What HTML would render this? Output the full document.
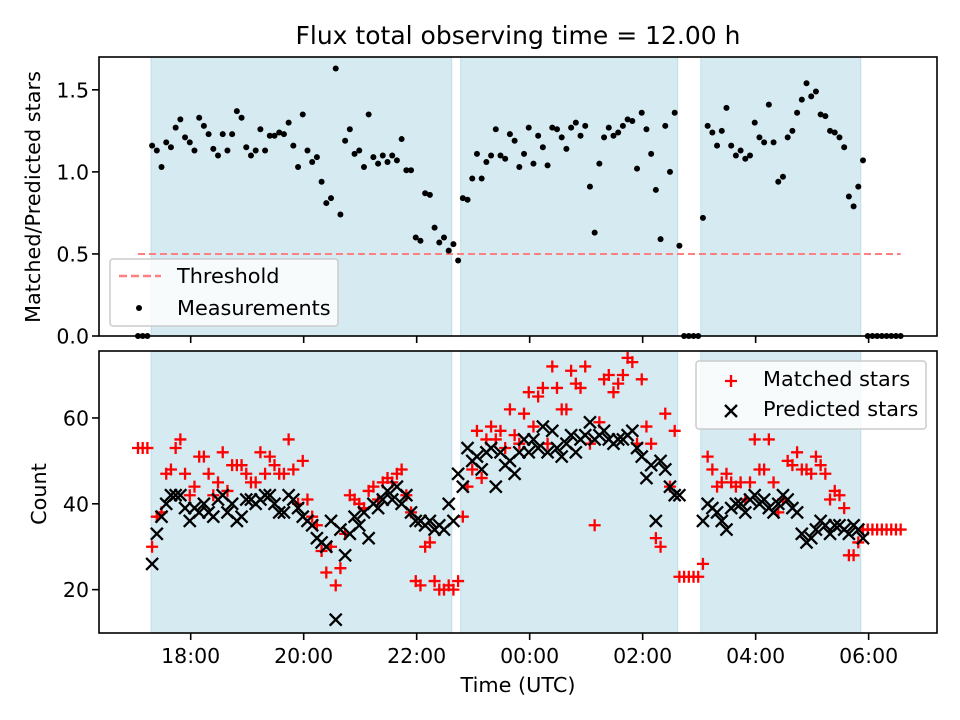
<!DOCTYPE html>
<html><head><meta charset="utf-8"><style>
body{margin:0;background:#fff}
svg text{font-family:"DejaVu Sans","Liberation Sans",sans-serif;fill:#000}
</style></head><body>
<svg id="chart" width="960" height="720" viewBox="0 0 960 720" xmlns="http://www.w3.org/2000/svg" style="position:absolute;left:0;top:0">
<text x="518" y="44" font-size="25" text-anchor="middle">Flux total observing time = 12.00 h</text>
<g id="gtop"></g><g id="gbot"></g>
</svg>
<script>
const t0 = 17.067, stepH = 5/60;
const ratio = [0,0,0,
1.16,1.13,1.03,1.18,1.15,1.27,1.32,1.21,1.18,1.13,1.33,1.28,1.23,1.14,1.10,1.23,1.13,1.23,1.37,1.33,1.15,1.10,1.13,1.26,1.13,1.22,1.22,1.24,1.23,1.30,1.16,1.03,1.35,1.13,1.06,1.09,0.94,0.81,0.84,1.63,0.74,1.19,1.26,1.11,1.13,1.03,1.35,1.09,1.05,1.10,1.06,1.10,1.07,1.20,1.01,1.01,0.60,0.58,0.87,0.86,0.66,0.57,0.60,0.52,0.56,0.46,0.84,0.83,0.96,1.11,0.96,1.06,1.10,1.26,1.10,1.08,1.23,1.19,1.03,
1.11,1.27,1.05,1.22,1.15,1.04,1.27,1.26,1.21,1.14,1.27,1.30,1.22,1.28,0.91,0.63,1.05,1.21,1.27,1.22,1.24,1.28,1.32,1.31,1.02,1.36,1.26,1.11,0.89,0.59,1.28,1.00,1.36,0.55,
0,0,0,0,
0.72,1.28,1.24,1.16,1.25,1.39,1.16,1.10,1.13,1.08,1.10,1.30,1.21,1.18,1.41,1.18,0.94,0.97,1.21,1.25,1.36,1.44,1.54,1.46,1.49,1.35,1.34,1.25,1.24,1.21,1.15,0.85,0.79,0.91,1.07,
0,0,0,0,0,0,0,0];
const predicted = [null,null,null,
26,33,37,40,42,42,42,39,36,39,38,40,38,37,41,42,38,40,36,37,41,41,40,41,42,42,40,38,38,42,41,39,37,
36,35,32,31,30,36,13,34,28,33,37,35,38,32,40,39,41,43,41,44,40,42,38,36,36,35,36,34,35,34,40,36,47,44,53,50,51,48,52,53,44,52,49,50,47,52,
55,52,55,53,58,52,57,53,51,54,56,52,55,56,59,55,56,57,55,54,55,55,56,57,53,51,46,49,36,50,48,44,42,42,
null,null,null,null,
36,40,39,38,36,34,39,40,40,38,41,42,40,41,39,38,40,42,41,39,38,33,31,32,34,36,35,33,35,35,34,33,35,34,32,
null,null,null,null,null,null,null,null];
const matched = [53,53,53,
30,37,38,47,48,53,55,47,42,44,51,51,47,42,45,52,43,49,49,49,47,45,45,52,47,51,49,47,47,55,48,40,50,
41,37,35,29,24,30,21,25,33,42,41,40,39,43,44,41,45,46,45,47,48,42,38,22,21,30,31,22,20,20,21,20,22,37,44,48,57,46,55,58,55,57,53,62,56,54,
61,66,58,65,67,54,72,67,62,62,71,68,67,72,54,35,59,69,70,66,68,70,74,73,54,69,58,54,32,30,61,44,57,23,
23,23,23,23,
26,51,48,44,45,47,45,44,45,41,45,55,48,48,55,45,38,41,50,49,52,48,48,47,51,49,47,41,43,42,39,28,28,31,34,
34,34,34,34,34,34,34,34];
const spans = [[17.30,22.62],[22.78,26.62],[27.03,29.86]];
const threshold = 0.5;
const xTickHours = [18,20,22,24,26,28,30];
const xTickLabels = ["18:00","20:00","22:00","00:00","02:00","04:00","06:00"];
const topTicks = [0,0.5,1.0,1.5];
const topTickLabels = ["0.0","0.5","1.0","1.5"];
const botTicks = [20,40,60];

const NS="http://www.w3.org/2000/svg";
const L=99,R=937, T1=57,B1=336, T2=351,B2=633;
const xmin=16.377, xmax=31.21;
const X=h=>L+(h-xmin)/(xmax-xmin)*(R-L);
const Y1=v=>B1-(v-0)/(1.70-0)*(B1-T1);
const Y2=v=>B2-(v-9.9)/(75.6-9.9)*(B2-T2);
function el(p,tag,a){const e=document.createElementNS(NS,tag);for(const k in a)e.setAttribute(k,a[k]);p.appendChild(e);return e;}
const gTop=document.getElementById('gtop'), gBot=document.getElementById('gbot');

function panel(g,T,B){
  spans.forEach((s,i)=>{
    const r=el(g,'rect',{x:X(s[0]),y:T,width:X(s[1])-X(s[0]),height:B-T,fill:'#d5eaf1',stroke:'#c0dde8','stroke-width':1});
    
    
  });
}
panel(gTop,T1,B1); panel(gBot,T2,B2);

const n=ratio.length;
const th=el(gTop,'line',{x1:X(t0),x2:X(t0+(n-1)*stepH),y1:Y1(threshold),y2:Y1(threshold),stroke:'#ff8080','stroke-width':2,'stroke-dasharray':'7,4'});



ratio.forEach((v,i)=>{
  const c=el(gTop,'circle',{cx:X(t0+i*stepH),cy:Y1(v),r:3,fill:'#000'});
  
  
});
matched.forEach((v,i)=>{
  if(v==null)return;
  const x=X(t0+i*stepH),y=Y2(v);
  const p=el(gBot,'path',{d:`M${x-6} ${y}H${x+6}M${x} ${y-6}V${y+6}`,stroke:'#ff0000','stroke-width':2.3,fill:'none'});
  
  
});
predicted.forEach((v,i)=>{
  if(v==null)return;
  const x=X(t0+i*stepH),y=Y2(v);
  const p=el(gBot,'path',{d:`M${x-6} ${y-6}L${x+6} ${y+6}M${x-6} ${y+6}L${x+6} ${y-6}`,stroke:'#000','stroke-width':2.3,fill:'none'});
  
  
});

[[gTop,T1,B1],[gBot,T2,B2]].forEach(([g,T,B],k)=>{
  const f=el(g,'rect',{x:L,y:T,width:R-L,height:B-T,fill:'none',stroke:'#000','stroke-width':1.6});
  
  
  xTickHours.forEach((h,j)=>{
    el(g,'line',{x1:X(h),x2:X(h),y1:B,y2:B+7,stroke:'#000','stroke-width':1.6});
    if(k){const t=el(g,'text',{x:X(h),y:B+30,'font-size':20.5,'text-anchor':'middle'});t.textContent=xTickLabels[j];
      
      }
  });
});
topTicks.forEach((v,j)=>{
  el(gTop,'line',{x1:L-7,x2:L,y1:Y1(v),y2:Y1(v),stroke:'#000','stroke-width':1.6});
  const t=el(gTop,'text',{x:L-10,y:Y1(v)+7.5,'font-size':20.5,'text-anchor':'end'});t.textContent=topTickLabels[j];
  
  
});
botTicks.forEach(v=>{
  el(gBot,'line',{x1:L-7,x2:L,y1:Y2(v),y2:Y2(v),stroke:'#000','stroke-width':1.6});
  const t=el(gBot,'text',{x:L-10,y:Y2(v)+7.5,'font-size':20.5,'text-anchor':'end'});t.textContent=String(v);
  
  
});
</script>
<svg style="position:absolute;left:0;top:0" width="960" height="720" xmlns="http://www.w3.org/2000/svg">
<text transform="translate(40,197) rotate(-90)" font-size="20.8" text-anchor="middle">Matched/Predicted stars</text>
<text transform="translate(46,494) rotate(-90)" font-size="20.8" text-anchor="middle">Count</text>
<text x="518" y="692" font-size="20.8" text-anchor="middle">Time (UTC)</text>
<g>
<rect x="110" y="259" width="228" height="67" rx="3" fill="#fff" fill-opacity="0.8" stroke="#ccc" stroke-width="1.5"/>
<line x1="119" x2="161" y1="276" y2="276" stroke="#ff8080" stroke-width="2.5" stroke-dasharray="8,4"/>
<text x="177" y="283" font-size="20.8">Threshold</text>
<circle cx="139" cy="308" r="3" fill="#000"/>
<text x="177" y="315" font-size="20.8">Measurements</text>
</g>
<g>
<rect x="696" y="361" width="230" height="68" rx="3" fill="#fff" fill-opacity="0.8" stroke="#ccc" stroke-width="1.5"/>
<path d="M725 381H737M731 375V387" stroke="#f00" stroke-width="2.3"/>
<text x="763" y="386" font-size="20.8">Matched stars</text>
<path d="M725 405L737 417M725 417L737 405" stroke="#000" stroke-width="2.3"/>
<text x="763" y="416" font-size="20.8">Predicted stars</text>
</g>
</svg>
</body></html>
